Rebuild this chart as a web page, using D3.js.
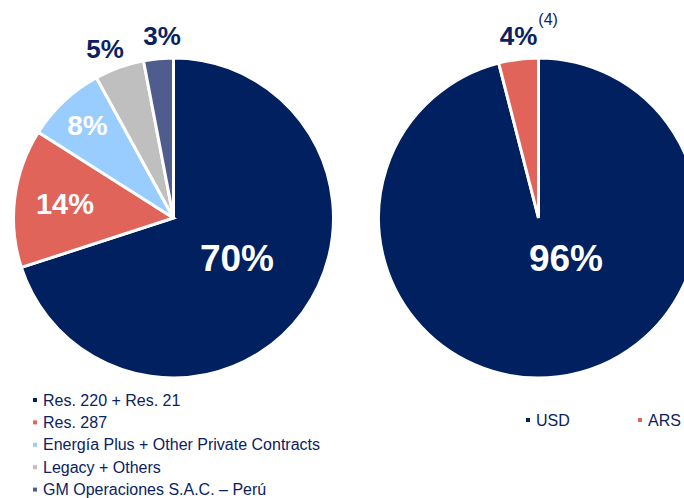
<!DOCTYPE html>
<html>
<head>
<meta charset="utf-8">
<script src="https://cdn.jsdelivr.net/npm/d3@7"></script>
<style>
  html, body { margin: 0; padding: 0; background: #fff; overflow: hidden; }
  svg { display: block; font-family: "Liberation Sans", Arial, sans-serif; }
</style>
</head>
<body>
<svg id="chart" width="684" height="498"></svg>
<script>
// Revenue split by contract type (left) and by currency (right)
const contractCategories = ["Res. 220 + Res. 21", "Res. 287", "Energía Plus + Other Private Contracts", "Legacy + Others", "GM Operaciones S.A.C. – Perú"];
const contractValues = [70, 14, 8, 5, 3];
const contractColors = ["#00205F", "#E0645A", "#99CCFF", "#BFBFBF", "#4E5D8E"];

const currencyCategories = ["USD", "ARS"];
const currencyValues = [96, 4];
const currencyColors = ["#00205F", "#E0645A"];

const NAVY_TEXT = "#0B2262";

const svg = d3.select("#chart");
const radius = 160;

const pie = d3.pie().sort(null).value(d => d.value);
const arc = d3.arc().innerRadius(0).outerRadius(radius);

// labelSpec: per-slice label offset from the pie centre, font size, and whether it sits inside
function drawPie(cx, cy, cats, vals, colors, labelSpec) {
  const data = cats.map((c, i) => ({ name: c, value: vals[i], color: colors[i] }));
  const g = svg.append("g").attr("transform", `translate(${cx},${cy})`);
  const arcs = pie(data);
  g.selectAll("path.slice")
    .data(arcs)
    .join("path")
    .attr("class", "slice")
    .attr("d", arc)
    .attr("fill", d => d.data.color)
    .attr("stroke", "#fff")
    .attr("stroke-width", 3)
    .attr("stroke-linejoin", "miter");

  arcs.forEach((a, i) => {
    const s = labelSpec[i];
    const t = g.append("text")
      .attr("x", s.x)
      .attr("y", s.y)
      .attr("text-anchor", "middle")
      .attr("font-weight", "bold")
      .attr("font-size", s.size)
      .attr("fill", s.inside ? "#fff" : NAVY_TEXT)
      .text(a.data.value + "%");
    if (s.note) {
      const bb = t.node().getBBox();
      g.append("text")
        .attr("x", bb.x + bb.width + 1)
        .attr("y", s.y - 20)
        .attr("font-size", 16)
        .attr("fill", NAVY_TEXT)
        .text(s.note);
    }
  });
  return arcs;
}

// y values are text baselines relative to the pie centre
drawPie(173.5, 218, contractCategories, contractValues, contractColors, [
  { x: 63.5, y: 52.5, size: 37, inside: true },
  { x: -108.5, y: -4.5, size: 29, inside: true },
  { x: -86, y: -83, size: 28, inside: true },
  { x: -68.5, y: -160.5, size: 26, inside: false },
  { x: -11.5, y: -173, size: 26, inside: false }
]);

drawPie(538.5, 218, currencyCategories, currencyValues, currencyColors, [
  { x: 27.5, y: 52.5, size: 37, inside: true },
  { x: -20, y: -173, size: 26, inside: false, note: "(4)" }
]);

// Legend for contract types
const legendLeft = svg.append("g").attr("transform", "translate(33,400)");
contractCategories.forEach((c, i) => {
  const row = legendLeft.append("g").attr("transform", `translate(0,${i * 22.4})`);
  row.append("rect").attr("x", 0).attr("y", -2).attr("width", 4).attr("height", 4).attr("fill", contractColors[i]);
  row.append("text").attr("x", 10).attr("y", 0)
    .attr("dominant-baseline", "central")
    .attr("font-size", 16).attr("fill", NAVY_TEXT).text(c);
});

// Legend for currencies
const legendRight = svg.append("g").attr("transform", "translate(526,420)");
currencyCategories.forEach((c, i) => {
  const row = legendRight.append("g").attr("transform", `translate(${i * 112},0)`);
  row.append("rect").attr("x", 0).attr("y", -2).attr("width", 4).attr("height", 4).attr("fill", currencyColors[i]);
  row.append("text").attr("x", 10).attr("y", 0)
    .attr("dominant-baseline", "central")
    .attr("font-size", 16).attr("fill", NAVY_TEXT).text(c);
});
</script>
</body>
</html>
